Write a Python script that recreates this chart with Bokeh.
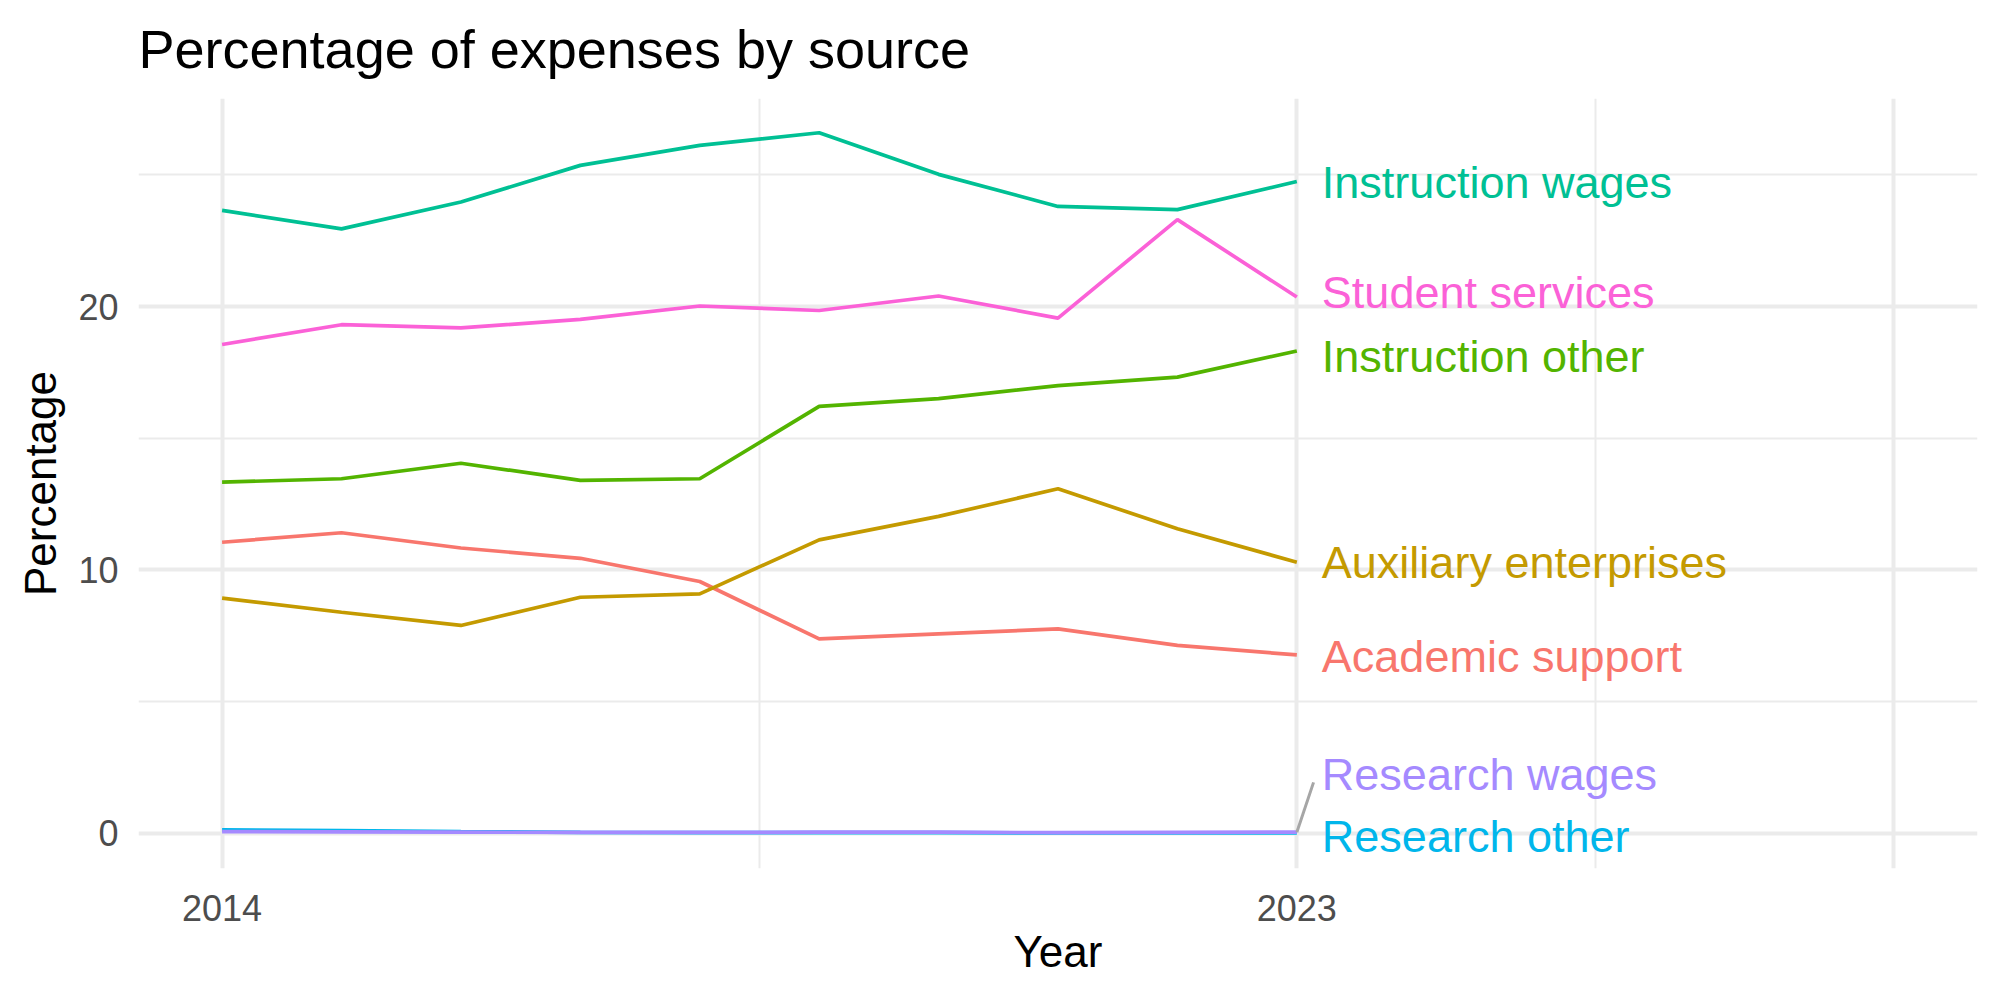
from bokeh.plotting import figure
from bokeh.models import Range1d, FixedTicker, ColumnDataSource
from bokeh.core.properties import value
from bokeh.embed import file_html
from bokeh.resources import INLINE

# Expense shares (%) by year and source
years = [2014, 2015, 2016, 2017, 2018, 2019, 2020, 2021, 2022, 2023]

academic_support = [11.05, 11.41, 10.83, 10.44, 9.56, 7.38, 7.57, 7.76, 7.13, 6.77]
auxiliary_enterprises = [8.93, 8.39, 7.89, 8.96, 9.09, 11.14, 12.03, 13.08, 11.56, 10.29]
instruction_other = [13.33, 13.46, 14.05, 13.40, 13.46, 16.21, 16.50, 17.00, 17.32, 18.31]
instruction_wages = [23.65, 22.95, 23.97, 25.36, 26.12, 26.60, 25.02, 23.80, 23.68, 24.75]
research_other = [0.13, 0.10, 0.06, 0.03, 0.02, 0.02, 0.02, 0.01, 0.01, 0.01]
research_wages = [0.06, 0.05, 0.04, 0.03, 0.03, 0.04, 0.04, 0.02, 0.03, 0.04]
student_services = [18.56, 19.31, 19.19, 19.51, 20.02, 19.85, 20.40, 19.56, 23.30, 20.36]

sources = [
    "Academic support",
    "Auxiliary enterprises",
    "Instruction other",
    "Instruction wages",
    "Research other",
    "Research wages",
    "Student services",
]
series = [
    academic_support,
    auxiliary_enterprises,
    instruction_other,
    instruction_wages,
    research_other,
    research_wages,
    student_services,
]
colors = ["#F8766D", "#C49A00", "#53B400", "#00C094", "#00B6EB", "#A58AFF", "#FB61D7"]

# small vertical shifts so end labels don't collide
label_shift = [-0.06, -0.01, -0.21, -0.05, -0.13, 2.19, 0.17]

FONT = "Liberation Sans"

p = figure(
    width=2000,
    height=1000,
    output_backend="svg",
    toolbar_location=None,
    x_range=Range1d(2013.3, 2028.7),
    y_range=Range1d(-1.34, 27.9),
    min_border_left=138,
    min_border_right=23,
    min_border_top=98,
    min_border_bottom=132,
    background_fill_color="white",
    border_fill_color="white",
    outline_line_color=None,
)

p.title.text = "Percentage of expenses by source"
p.title.text_font = FONT
p.title.text_font_size = "54px"
p.title.text_font_style = "normal"
p.title.text_color = "black"
p.title.align = "left"
p.title.vertical_align = "top"
p.title.standoff = 36

for ys, c in zip(series, colors):
    p.line(years, ys, line_color=c, line_width=3.7)

last_year = years[-1]
end_vals = [s[-1] for s in series]
label_y = [v + d for v, d in zip(end_vals, label_shift)]

# leader for the label pushed away from its line end
rw = sources.index("Research wages")
p.segment(x0=[last_year], y0=[end_vals[rw]], x1=[last_year + 0.14], y1=[label_y[rw] - 0.3],
          line_color="#A6A6A6", line_width=3)

src = ColumnDataSource(dict(x=[last_year] * len(sources), y=label_y, text=sources, color=colors))
p.text(x="x", y="y", text="text", text_color="color", source=src,
       x_offset=25, text_baseline="middle", text_align="left",
       text_font=value(FONT), text_font_size="45px")

# axes
p.xaxis.ticker = FixedTicker(ticks=[2014, 2023, 2028], minor_ticks=[2018.5, 2025.5])
p.xaxis.major_label_overrides = {2028: ""}
p.yaxis.ticker = FixedTicker(ticks=[0, 10, 20], minor_ticks=[5, 15, 25])

for ax in (p.xaxis, p.yaxis):
    ax.axis_line_color = None
    ax.major_tick_line_color = None
    ax.minor_tick_line_color = None
    ax.major_label_text_font = FONT
    ax.major_label_text_font_size = "36px"
    ax.major_label_text_color = "#4D4D4D"
    ax.axis_label_text_font = FONT
    ax.axis_label_text_font_size = "44px"
    ax.axis_label_text_font_style = "normal"
    ax.axis_label_text_color = "black"

p.xaxis.major_label_standoff = 20
p.yaxis.major_label_standoff = 14
p.xaxis.axis_label = "Year"
p.yaxis.axis_label = "Percentage"
p.xaxis.axis_label_standoff = 3
p.yaxis.axis_label_standoff = 10

for g in (p.xgrid, p.ygrid):
    g.grid_line_color = "#EBEBEB"
    g.grid_line_width = 4
    g.minor_grid_line_color = "#EBEBEB"
    g.minor_grid_line_width = 2

open("out.html", "w").write(file_html(p, INLINE))
